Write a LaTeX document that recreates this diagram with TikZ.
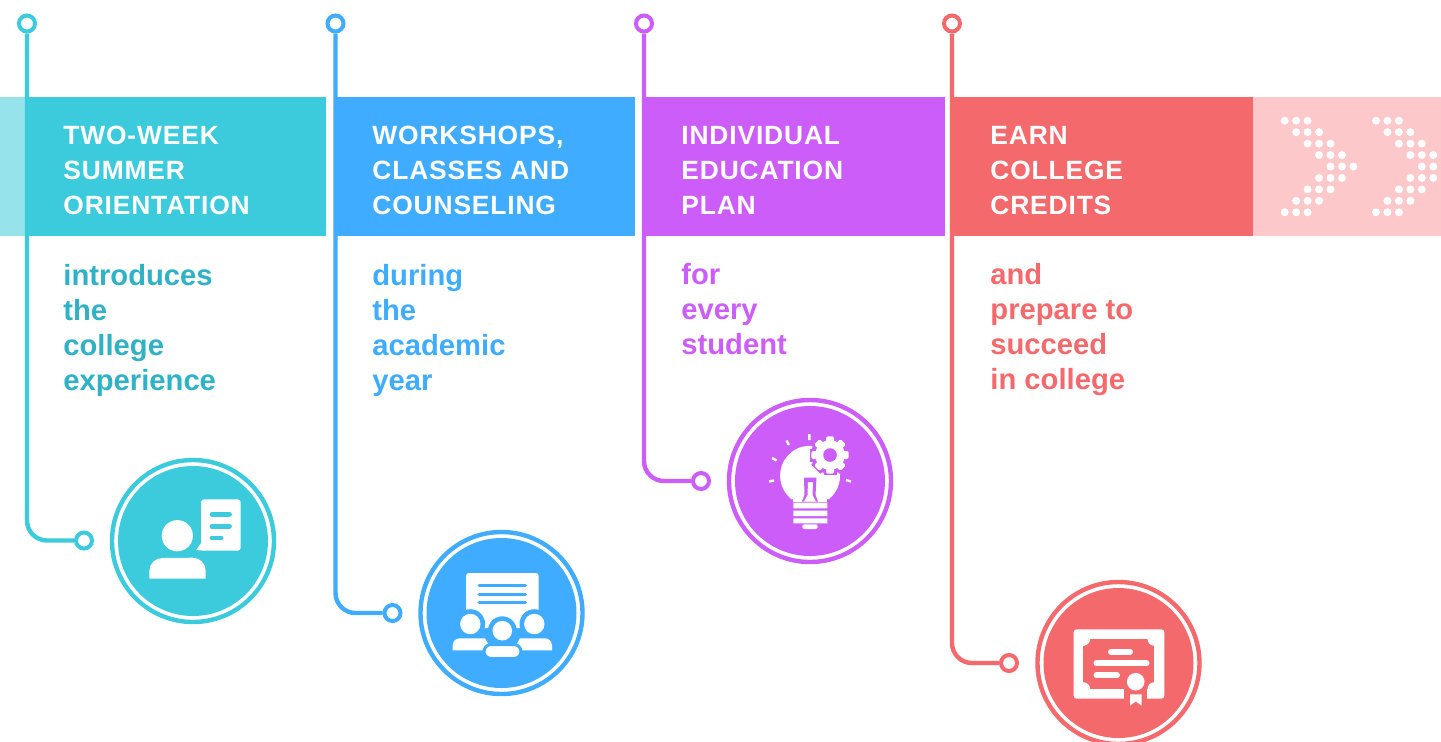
\documentclass[tikz,border=0pt]{standalone}
\usepackage{fontspec}
\setmainfont{Liberation Sans}[LetterSpace=3.2]
\newfontfamily\subfont{Liberation Sans}
\usepackage{xcolor}
\definecolor{tealc}{HTML}{3BCBDC}
\definecolor{tealtext}{HTML}{2FB1C6}
\definecolor{teallight}{HTML}{96E3EC}
\definecolor{bluec}{HTML}{40ACFF}
\definecolor{purplec}{HTML}{CC5DF9}
\definecolor{redc}{HTML}{F4696B}
\definecolor{pinklight}{HTML}{FCC8C9}
\tikzset{
  bandbox/.style={anchor=north west, inner sep=0pt, minimum height=69.5pt},
  headtext/.style={anchor=north west, inner sep=0pt, align=left, text=white, font=\fontsize{13.2}{17.5}\selectfont\bfseries},
  subtext/.style={anchor=north west, inner sep=0pt, align=left, font=\fontsize{14.6}{17.6}\selectfont\subfont\bfseries},
  topdot/.style={circle, draw, fill=white, line width=2pt, minimum size=8pt, inner sep=0pt},
  bigdot/.style={circle, draw, fill=white, line width=2.2pt, minimum size=81pt, inner sep=0pt},
  stem/.style={line width=2.2pt, rounded corners=10pt},
}
\begin{document}
\begin{tikzpicture}[x=0.5pt, y=-0.5pt]
  \useasboundingbox (0,0) rectangle (1441,741);
  \clip (0,0) rectangle (1441,741);
  % band
  \node[bandbox, fill=teallight, minimum width=12.5pt] (b0) at (0,97) {};
  \node[bandbox, fill=tealc, minimum width=150.5pt] (b1) at (25,97) {};
  \node[bandbox, fill=bluec, minimum width=150.5pt] (b2) at (334,97) {};
  \node[bandbox, fill=purplec, minimum width=151.5pt] (b3) at (642,97) {};
  \node[bandbox, fill=redc, minimum width=151.5pt] (b4) at (950,97) {};
  \node[bandbox, fill=pinklight, minimum width=94pt] (b5) at (1253,97) {};
  % dots in the last part of the band
  \foreach \xoff in {0, 91.3}
    \foreach \row in {0,...,8} {
      \pgfmathsetmacro{\d}{min(\row, 8-\row)}
      \foreach \col in {0,1,2}
        \fill[white] ({1284.7+\xoff+11.45*(\d+\col)}, {120.7+11.45*\row}) circle (2pt);
    }
  % connectors
  \node[topdot, draw=tealc] (t1) at (27,23.5) {};
  \node[topdot, draw=bluec] (t2) at (335.5,23.5) {};
  \node[topdot, draw=purplec] (t3) at (644,23.5) {};
  \node[topdot, draw=redc] (t4) at (952,23.5) {};
  \node[topdot, draw=tealc] (e1) at (84,540.5) {};
  \node[topdot, draw=bluec] (e2) at (392.5,613) {};
  \node[topdot, draw=purplec] (e3) at (701,481) {};
  \node[topdot, draw=redc] (e4) at (1009,663) {};
  \draw[stem, tealc] (t1) |- (e1);
  \draw[stem, bluec] (t2) |- (e2);
  \draw[stem, purplec] (t3) |- (e3);
  \draw[stem, redc] (t4) |- (e4);
  % labels
  \node[headtext] (h1) at (63,126) {TWO-WEEK\\SUMMER\\ORIENTATION};
  \node[headtext] (h2) at (372,126) {WORKSHOPS,\\CLASSES AND\\COUNSELING};
  \node[headtext] (h3) at (681,126) {INDIVIDUAL\\EDUCATION\\PLAN};
  \node[headtext] (h4) at (990,126) {EARN\\COLLEGE\\CREDITS};
  \node[subtext, text=tealtext] (s1) at (63,263.5) {introduces\\the\\college\\experience};
  \node[subtext, text=bluec] (s2) at (372,263.5) {during\\the\\academic\\year};
  \node[subtext, text=purplec] (s3) at (681,262.5) {for\\every\\student};
  \node[subtext, text=redc] (s4) at (990,262.5) {and\\prepare to\\succeed\\in college};
  % big circles
  \node[bigdot, draw=tealc] (c1) at (193,541) {};
  \node[bigdot, draw=bluec] (c2) at (501.5,613) {};
  \node[bigdot, draw=purplec] (c3) at (810,481) {};
  \node[bigdot, draw=redc] (c4) at (1118.5,663) {};
  \fill[tealc] (c1) circle (37.5pt);
  \fill[bluec] (c2) circle (37.5pt);
  \fill[purplec] (c3) circle (37.5pt);
  \fill[redc] (c4) circle (37.5pt);
  % person with speech note
  \fill[white] (177.3,535.7) circle (7.8pt);
  \fill[white] (149.3,578.7) -- (149.3,571) arc[start angle=180, end angle=90, radius=6.5pt] -- (192.7,557.7) arc[start angle=90, end angle=0, radius=6.5pt] -- (205.7,578.7) -- cycle;
  \fill[white, rounded corners=1.5pt] (201,499.3) rectangle (240.7,550.7);
  \fill[white] (201,540) -- (201,543) -- (196.3,550) -- (204,550.7) -- cycle;
  \draw[tealc, line width=2.4pt, line cap=round] (212,514.3) -- (229.5,514.3) (212,526.3) -- (229.5,526.3) (212,538) -- (221,538);
  % board and audience
  \fill[white, rounded corners=1.5pt] (466,573) rectangle (538.7,628);
  \draw[bluec, line width=1.5pt, line cap=round] (479,585.7) -- (525.5,585.7) (479,594) -- (525.5,594) (479,602.3) -- (525.5,602.3);
  \fill[bluec] (470.3,624) circle (7.4pt) (534.3,624) circle (7.4pt) (502.3,630.7) circle (7.2pt);
  \fill[white] (470.3,624) circle (5.1pt) (534.3,624) circle (5.1pt) (502.3,630.7) circle (4.9pt);
  \fill[white] (452.7,650.3) -- (452.7,645.3) arc[start angle=180, end angle=90, radius=3.5pt] -- (485,638.3) -- (492,650.3) -- cycle;
  \fill[white] (552,650.3) -- (552,645.3) arc[start angle=0, end angle=90, radius=3.5pt] -- (520,638.3) -- (513,650.3) -- cycle;
  \draw[bluec, fill=white, line width=1.5pt, rounded corners=3.5pt] (484,658.5) -- (484,644.5) -- (521,644.5) -- (521,658.5) -- cycle;
  % light bulb and gear
  \fill[white] (810,475) ++(-19,24) -- ++(38,0) arc[start angle=-51, end angle=231, radius=15pt] -- cycle;
  \fill[white] (792.7,498) rectangle (827.3,501.5);
  \fill[white] (793.3,502.7) rectangle (827.3,508.3) (793.3,510.7) rectangle (827.3,516) (793.3,518.3) rectangle (827.3,523.3);
  \fill[white, rounded corners=1pt] (802.3,524.3) rectangle (817.7,529);
  \fill[purplec] (804,477.5) -- (816.5,477.5) -- (815.5,495) -- (818,501.5) -- (802,501.5) -- (804.5,495) -- cycle;
  \fill[white] (808,482) -- (813,482) -- (812.5,495) -- (816,501.5) -- (804,501.5) -- (807.5,495) -- cycle;
  \fill[purplec] (830,455) circle (9.5pt);
  \foreach \ang in {0,45,...,315}
    \draw[purplec, line width=3pt, rotate around={\ang:(830,455)}] (826.5,438) rectangle (833.5,450);
  \foreach \ang in {0,45,...,315}
    \fill[white, rotate around={\ang:(830,455)}, rounded corners=0.8pt] (826,436.3) rectangle (834,450);
  \fill[white] (830,455) circle (7.4pt);
  \fill[purplec] (830,455) circle (3.4pt);
  \draw[white, line width=1.2pt] (809.3,434) -- (809.3,440) (786.5,440.5) -- (789,445) (772,458) -- (776.5,460.5) (769,481.5) -- (774,480.5) (846,480) -- (851,481.5);
  % certificate
  \fill[white, rounded corners=1.5pt] (1073.7,629.3) rectangle (1164.3,698.7);
  \fill[redc] (1083.3,639) rectangle (1154.3,689);
  \fill[redc] (1123.7,685) rectangle (1147.3,699);
  \fill[white] (1083.3,639) circle (3.4pt) (1154.3,639) circle (3.4pt) (1083.3,689) circle (3.4pt) (1154.3,689) circle (3.4pt);
  \draw[white, line width=3pt, line cap=round] (1111,651.7) -- (1130,651.7) (1096.5,663.3) -- (1146.5,663.3) (1096.5,675.3) -- (1117,675.3);
  \fill[white] (1135.7,681.7) circle (4.4pt);
  \fill[white] (1130,694.3) -- (1141.7,694.3) -- (1141.7,705.7) -- (1135.8,701.5) -- (1130,705.7) -- cycle;
\end{tikzpicture}
\end{document}
